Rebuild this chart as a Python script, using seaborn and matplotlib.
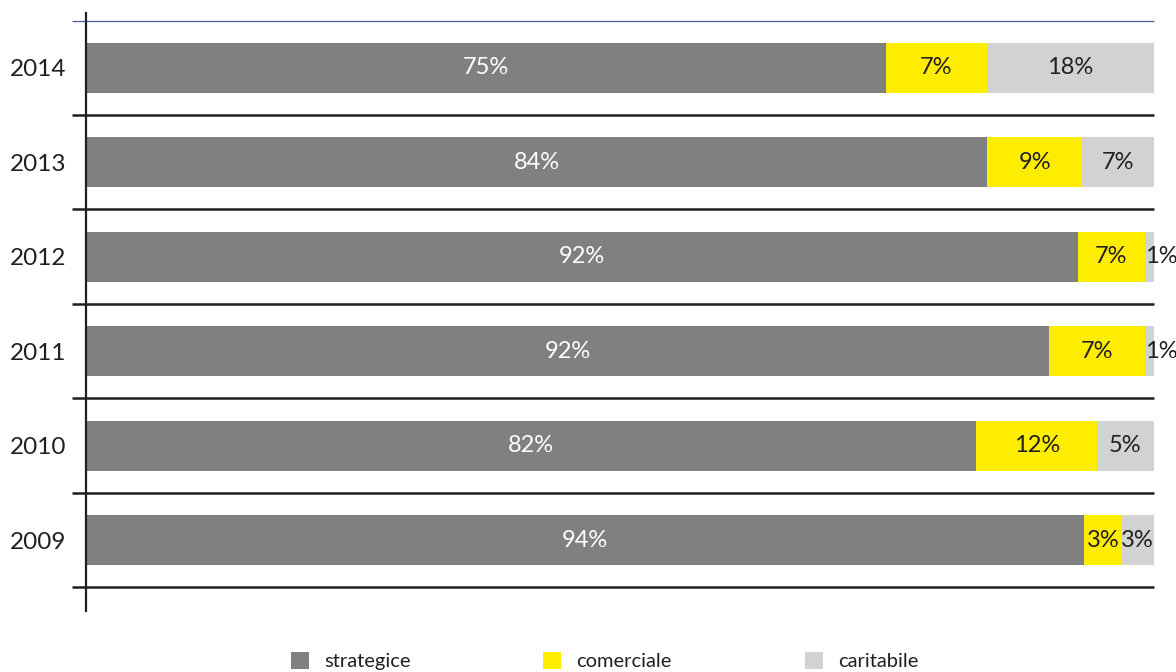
import pandas as pd
import matplotlib
matplotlib.use("Agg")
import matplotlib.pyplot as plt
import seaborn as sns
from matplotlib.patches import Patch

# data (drawn widths) and the printed labels
years = ["2014", "2013", "2012", "2011", "2010", "2009"]
strategice = [74.9, 84.4, 92.9, 90.2, 83.4, 93.5]
comerciale = [9.5, 8.9, 6.3, 9.0, 11.3, 3.5]
caritabile = [15.6, 6.7, 0.8, 0.8, 5.3, 3.0]
label_strategice = ["75%", "84%", "92%", "92%", "82%", "94%"]
label_comerciale = ["7%", "9%", "7%", "7%", "12%", "3%"]
label_caritabile = ["18%", "7%", "1%", "1%", "5%", "3%"]
series_names = ["strategice", "comerciale", "caritabile"]

GREY = "#808080"
YELLOW = "#FFED00"
LIGHT = "#D1D2D4"
INK = "#231F20"


def main():
    sns.set_theme(style="white")
    plt.rcParams["font.family"] = ["Lato", "DejaVu Sans"]

    df = pd.DataFrame({
        "year": years,
        "strategice": strategice,
        "comerciale": comerciale,
        "caritabile": caritabile,
    })
    df["s_end"] = df["strategice"]
    df["c_end"] = df["s_end"] + df["comerciale"]
    df["total"] = df["c_end"] + df["caritabile"]

    fig = plt.figure(figsize=(11.76, 6.72), dpi=100)
    ax = fig.add_axes([0.0731, 0.0908, 0.9079, 0.8899])

    # stacked bars drawn back to front from cumulative sums
    for col, color in [("total", LIGHT), ("c_end", YELLOW), ("s_end", GREY)]:
        sns.barplot(data=df, x=col, y="year", order=years, orient="h",
                    color=color, width=0.53, linewidth=0, saturation=1, ax=ax)

    ax.set_xlim(0, 100)
    ax.set_ylim(5.75, -0.58)
    ax.set_xlabel("")
    ax.set_ylabel("")
    ax.set_xticks([])
    ax.tick_params(axis="y", length=0, pad=14, labelsize=17.5, labelcolor=INK)

    for side in ["top", "right", "bottom"]:
        ax.spines[side].set_visible(False)
    ax.spines["left"].set_color(INK)
    ax.spines["left"].set_linewidth(1.6)
    ax.spines["left"].set_zorder(5)

    # row separators and top rule
    n = len(years)
    ax.hlines([i + 0.5 for i in range(n)], -1.3, 100, color=INK, lw=1.8,
              clip_on=False, zorder=4)
    ax.hlines(-0.5, -1.3, 100, color="#4A5C96", lw=0.9, clip_on=False, zorder=4)

    # segment labels
    for i in range(n):
        segs = [
            (0, df["s_end"][i], label_strategice[i], "white"),
            (df["s_end"][i], df["c_end"][i], label_comerciale[i], INK),
            (df["c_end"][i], df["total"][i], label_caritabile[i], INK),
        ]
        for left, right, txt, tc in segs:
            if right - left < 2:
                ax.text(left, i, txt, ha="left", va="center", fontsize=17,
                        color=tc, clip_on=False, zorder=6)
            else:
                ax.text((left + right) / 2, i, txt, ha="center", va="center",
                        fontsize=17, color=tc, zorder=6)

    handles = [Patch(facecolor=c, edgecolor="none") for c in [GREY, YELLOW, LIGHT]]
    fig.legend(handles, series_names, loc="center", bbox_to_anchor=(0.514, 0.016),
               ncol=3, frameon=False, fontsize=14.5, handlelength=0.9,
               handleheight=0.9, handletextpad=0.75, columnspacing=6.6,
               labelcolor=INK)

    fig.savefig("out.png", dpi=100)


if __name__ == "__main__":
    main()
